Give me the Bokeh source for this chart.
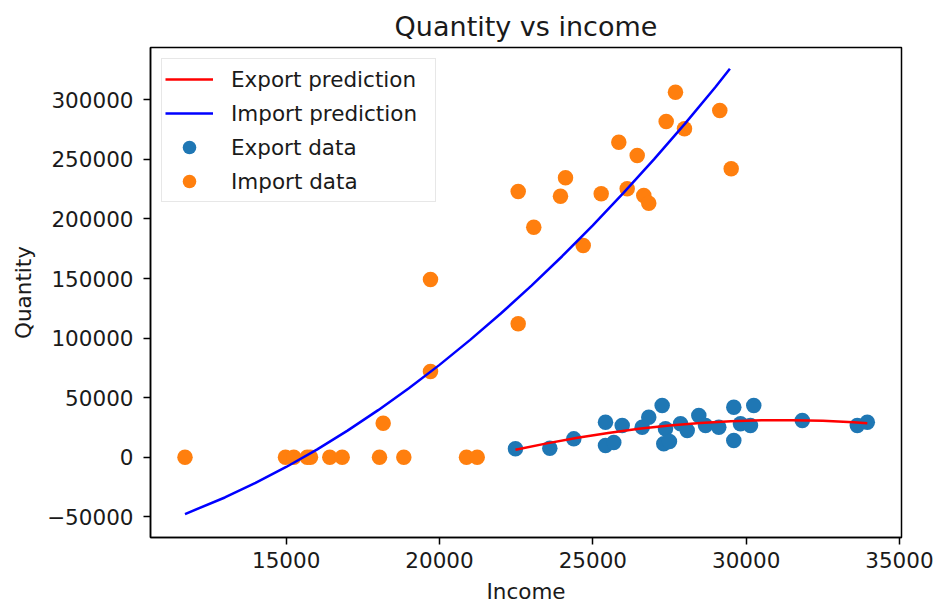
from bokeh.plotting import figure
from bokeh.models import Range1d, FixedTicker, Legend, LegendItem
from bokeh.embed import file_html
from bokeh.resources import INLINE

# Observed export records: income vs quantity
export_income = [22477, 23597, 24379, 25413, 25413, 25683, 25958, 26610, 26824,
                 27261, 27369, 27313, 27499, 27860, 28078, 28456, 28675, 29108,
                 29597, 29597, 29815, 30248, 30141, 31831, 33625, 33951]
export_qty = [7100, 7600, 15400, 29400, 9900, 12400, 26600, 25200, 33600,
              43400, 23800, 11300, 13200, 28000, 22400, 35000, 26600, 25200,
              41900, 14000, 28000, 43400, 26600, 30800, 26600, 29400]

# Observed import records: income vs quantity
import_income = [11700, 14977, 15248, 15685, 15792, 16422, 16826, 18043, 18836,
                 20880, 21229, 18163, 19706, 19706, 22566, 22566, 24109, 23945,
                 23074, 25273, 25847, 26447, 26120, 26662, 26824, 27392, 27695,
                 27989, 29140, 29512, 24686]
import_qty = [0, 0, 0, 0, 0, 0, 0, 0, 0,
              0, 0, 28500, 149200, 71900, 223000, 112000, 234600, 219100,
              193100, 221100, 264400, 253300, 225300, 219700, 213200, 281800, 306400,
              275700, 291000, 242100, 177700]

# Fitted prediction curves, sampled along income
export_fit_income = [22477, 23500, 24500, 25500, 26500, 27500, 28500, 29500,
                     30500, 31500, 32500, 33500, 33951]
export_fit_qty = [6200, 11600, 16300, 20400, 23800, 26600, 28700, 30200,
                  31000, 31100, 30600, 29400, 28600]

import_fit_income = [11700, 13000, 14000, 15000, 16000, 17000, 18000, 19000,
                     20000, 21000, 22000, 23000, 24000, 25000, 26000, 27000,
                     28000, 29000, 29470]
import_fit_qty = [-47700, -33800, -21600, -8200, 6400, 22300, 39500, 57900,
                  77500, 98500, 120600, 144000, 168700, 194600, 221800, 250200,
                  279800, 310700, 326000]

x_ticks = [15000, 20000, 25000, 30000, 35000]
x_tick_labels = ["15000", "20000", "25000", "30000", "35000"]
y_ticks = [-50000, 0, 50000, 100000, 150000, 200000, 250000, 300000]
y_tick_labels = ["\u221250000", "0", "50000", "100000", "150000", "200000",
                 "250000", "300000"]

FONT = "DejaVu Sans"
TXT = "#1a1a1a"
FS = "21.5px"

p = figure(width=936, height=607, output_backend="svg", toolbar_location=None,
           x_range=Range1d(10575, 35066), y_range=Range1d(-67400, 343900),
           min_border_left=150, min_border_right=35, min_border_top=47,
           min_border_bottom=70, title="Quantity vs income",
           background_fill_color="white", border_fill_color="white")

p.title.text_font = FONT
p.title.text_font_size = "27px"
p.title.text_font_style = "normal"
p.title.text_color = TXT
p.title.align = "center"
p.title.standoff = 11

p.xgrid.visible = False
p.ygrid.visible = False
p.outline_line_color = "black"
p.outline_line_width = 1.5

for ax in (p.xaxis[0], p.yaxis[0]):
    ax.axis_line_color = "black"
    ax.axis_line_width = 1.5
    ax.major_tick_line_color = "black"
    ax.major_tick_line_width = 1.5
    ax.major_tick_out = 7
    ax.major_tick_in = 0
    ax.minor_tick_out = 0
    ax.minor_tick_in = 0
    ax.major_label_text_font = FONT
    ax.major_label_text_font_size = FS
    ax.major_label_text_color = TXT
    ax.axis_label_text_font = FONT
    ax.axis_label_text_font_size = FS
    ax.axis_label_text_font_style = "normal"
    ax.axis_label_text_color = TXT

p.xaxis.ticker = FixedTicker(ticks=x_ticks)
p.yaxis.ticker = FixedTicker(ticks=y_ticks)
p.xaxis.major_label_overrides = dict(zip(x_ticks, x_tick_labels))
p.yaxis.major_label_overrides = dict(zip(y_ticks, y_tick_labels))
p.xaxis.major_label_standoff = 7
p.yaxis.major_label_standoff = 10
p.xaxis.axis_label = "Income"
p.yaxis.axis_label = "Quantity"
p.xaxis.axis_label_standoff = 8
p.yaxis.axis_label_standoff = 8

# Points first, fitted curves on top
exp_pts = p.scatter(export_income, export_qty, size=15.5,
                    fill_color="#1f77b4", line_color=None)
imp_pts = p.scatter(import_income, import_qty, size=15.5,
                    fill_color="#ff7f0e", line_color=None)
exp_fit = p.line(export_fit_income, export_fit_qty, line_color="red", line_width=2.5)
imp_fit = p.line(import_fit_income, import_fit_qty, line_color="blue", line_width=2.5)

legend = Legend(items=[
    LegendItem(label="Export prediction", renderers=[exp_fit]),
    LegendItem(label="Import prediction", renderers=[imp_fit]),
    LegendItem(label="Export data", renderers=[exp_pts]),
    LegendItem(label="Import data", renderers=[imp_pts]),
], location="top_left")
legend.margin = 11
legend.padding = 3
legend.spacing = 0
legend.glyph_width = 48
legend.glyph_height = 34
legend.label_height = 34
legend.label_width = 201
legend.label_standoff = 18
legend.label_text_font = FONT
legend.label_text_font_size = FS
legend.label_text_color = TXT
legend.border_line_color = "#d0d0d0"
legend.border_line_width = 1.5
legend.background_fill_color = "white"
legend.background_fill_alpha = 0.8
p.add_layout(legend)

open("out.html", "w").write(file_html(p, INLINE))
